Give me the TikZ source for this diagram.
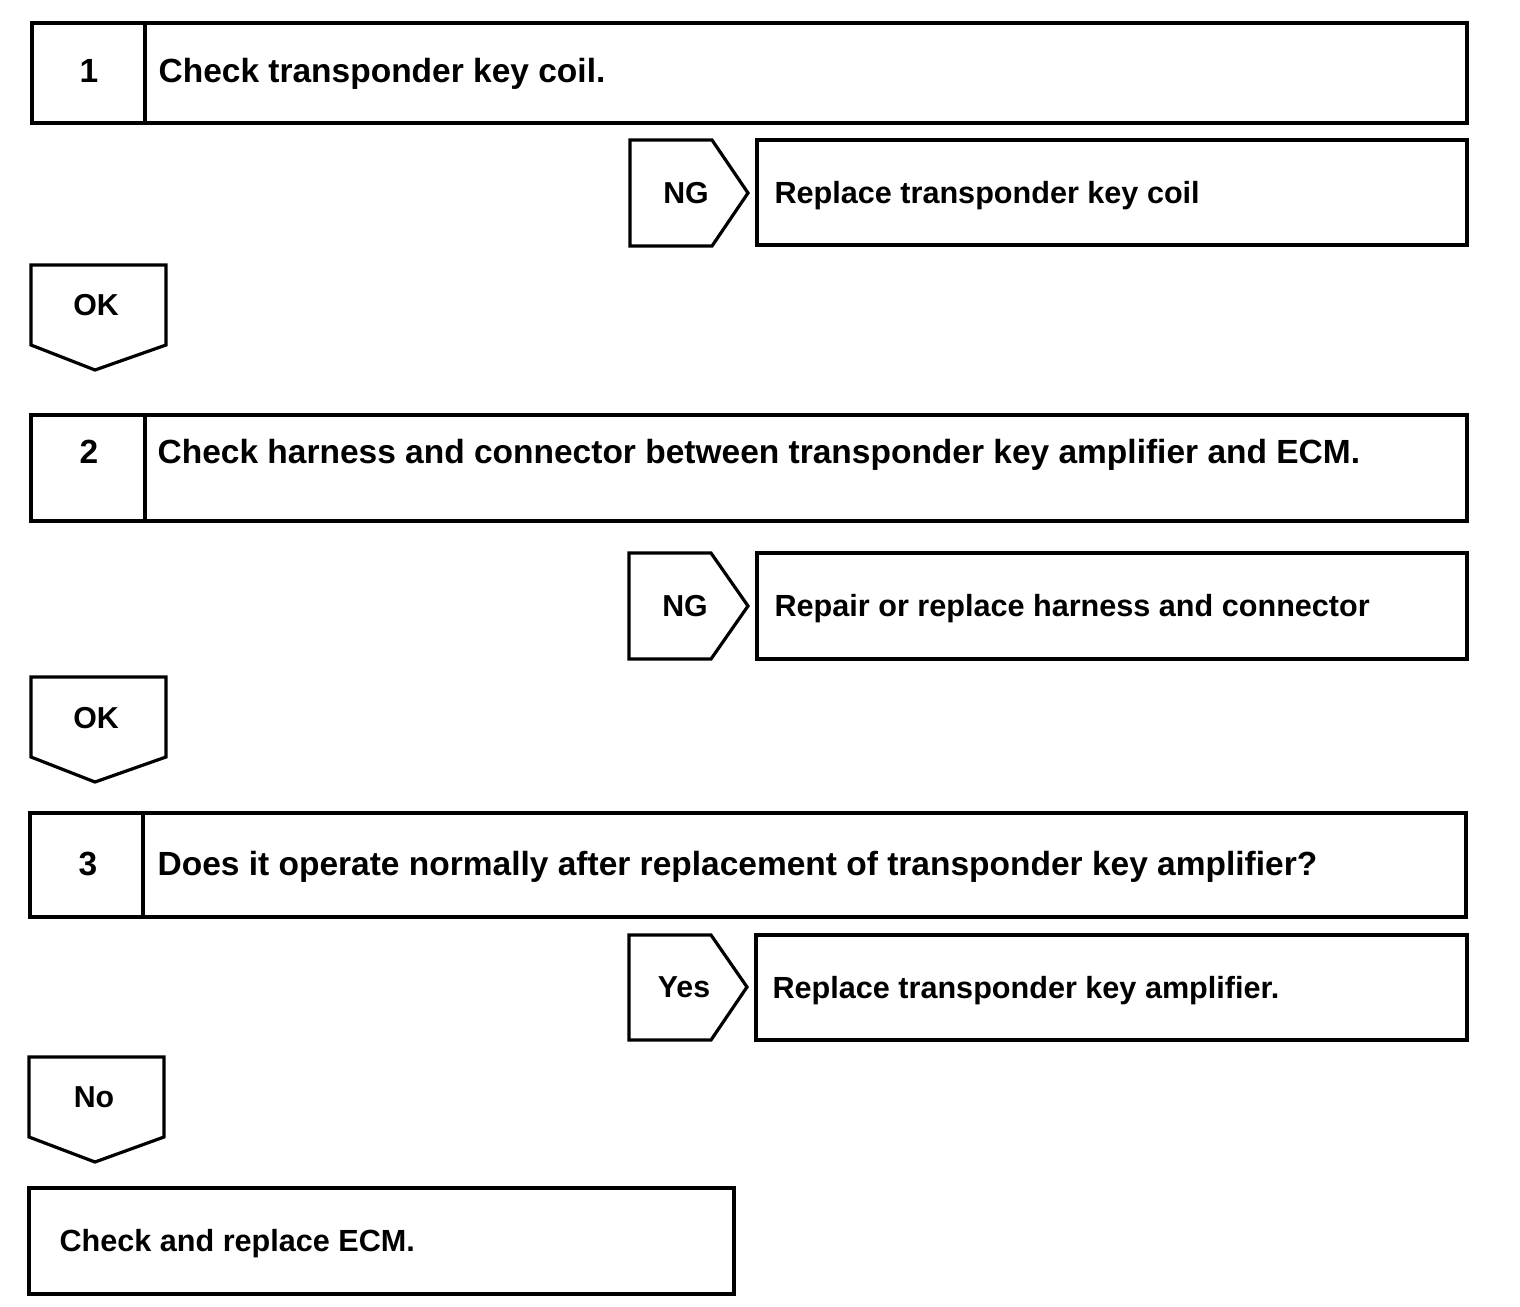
\documentclass[tikz,border=0pt]{standalone}
\usepackage{fontspec}
\setmainfont{Liberation Sans}
\begin{document}
\begin{tikzpicture}[x=1pt,y=-1pt,line width=3.2pt,
  lbl/.style={font=\bfseries\fontsize{33.5}{36}\selectfont,anchor=base west,inner sep=0pt},
  act/.style={font=\bfseries\fontsize{30.6}{33}\selectfont,anchor=base west,inner sep=0pt},
  num/.style={font=\bfseries\fontsize{33.5}{36}\selectfont,anchor=base,inner sep=0pt},
  tag/.style={font=\bfseries\fontsize{30.3}{33}\selectfont,anchor=base,inner sep=0pt}]
\useasboundingbox (0,0) rectangle (1520,1306);
% Step 1
\draw (32,23) rectangle (1467,123);
\draw (145,23) -- (145,123);
\node[num] (n1) at (89,82) {1};
\node[lbl] (t1) at (157,82) {Check transponder key coil.};
% NG1
\draw (630,140) -- (712,140) -- (748,193) -- (712,246) -- (630,246) -- cycle;
\node[tag] (ng1) at (686,203) {NG};
\draw (757,140) rectangle (1467,245);
\node[act] (r1) at (773,203) {Replace transponder key coil};
% OK1
\draw (31,265) -- (166,265) -- (166,345) -- (95,370) -- (31,345) -- cycle;
\node[tag] (ok1) at (96,315) {OK};
% Step 2
\draw (31,415) rectangle (1467,521);
\draw (145,415) -- (145,521);
\node[num] (n2) at (89,463) {2};
\node[lbl] (t2) at (156,463) {Check harness and connector between transponder key amplifier and ECM.};
% NG2
\draw (629,553) -- (711,553) -- (748,606) -- (711,659) -- (629,659) -- cycle;
\node[tag] (ng2) at (685,616) {NG};
\draw (757,553) rectangle (1467,659);
\node[act] (r2) at (773,616) {Repair or replace harness and connector};
% OK2
\draw (31,677) -- (166,677) -- (166,757) -- (95,782) -- (31,757) -- cycle;
\node[tag] (ok2) at (96,728) {OK};
% Step 3
\draw (30,813) rectangle (1466,917);
\draw (143,813) -- (143,917);
\node[num] (n3) at (88,875) {3};
\node[lbl] (t3) at (156,875) {Does it operate normally after replacement of transponder key amplifier?};
% Yes
\draw (629,935) -- (711,935) -- (747,987) -- (711,1040) -- (629,1040) -- cycle;
\node[tag] (y3) at (684,997) {Yes};
\draw (756,935) rectangle (1467,1040);
\node[act] (r3) at (771,998) {Replace transponder key amplifier.};
% No
\draw (29,1057) -- (164,1057) -- (164,1137) -- (95,1162) -- (29,1137) -- cycle;
\node[tag] (no3) at (94,1107) {No};
% Final
\draw (29,1188) rectangle (734,1294);
\node[act] (f) at (58,1251) {Check and replace ECM.};
\end{tikzpicture}
\end{document}
